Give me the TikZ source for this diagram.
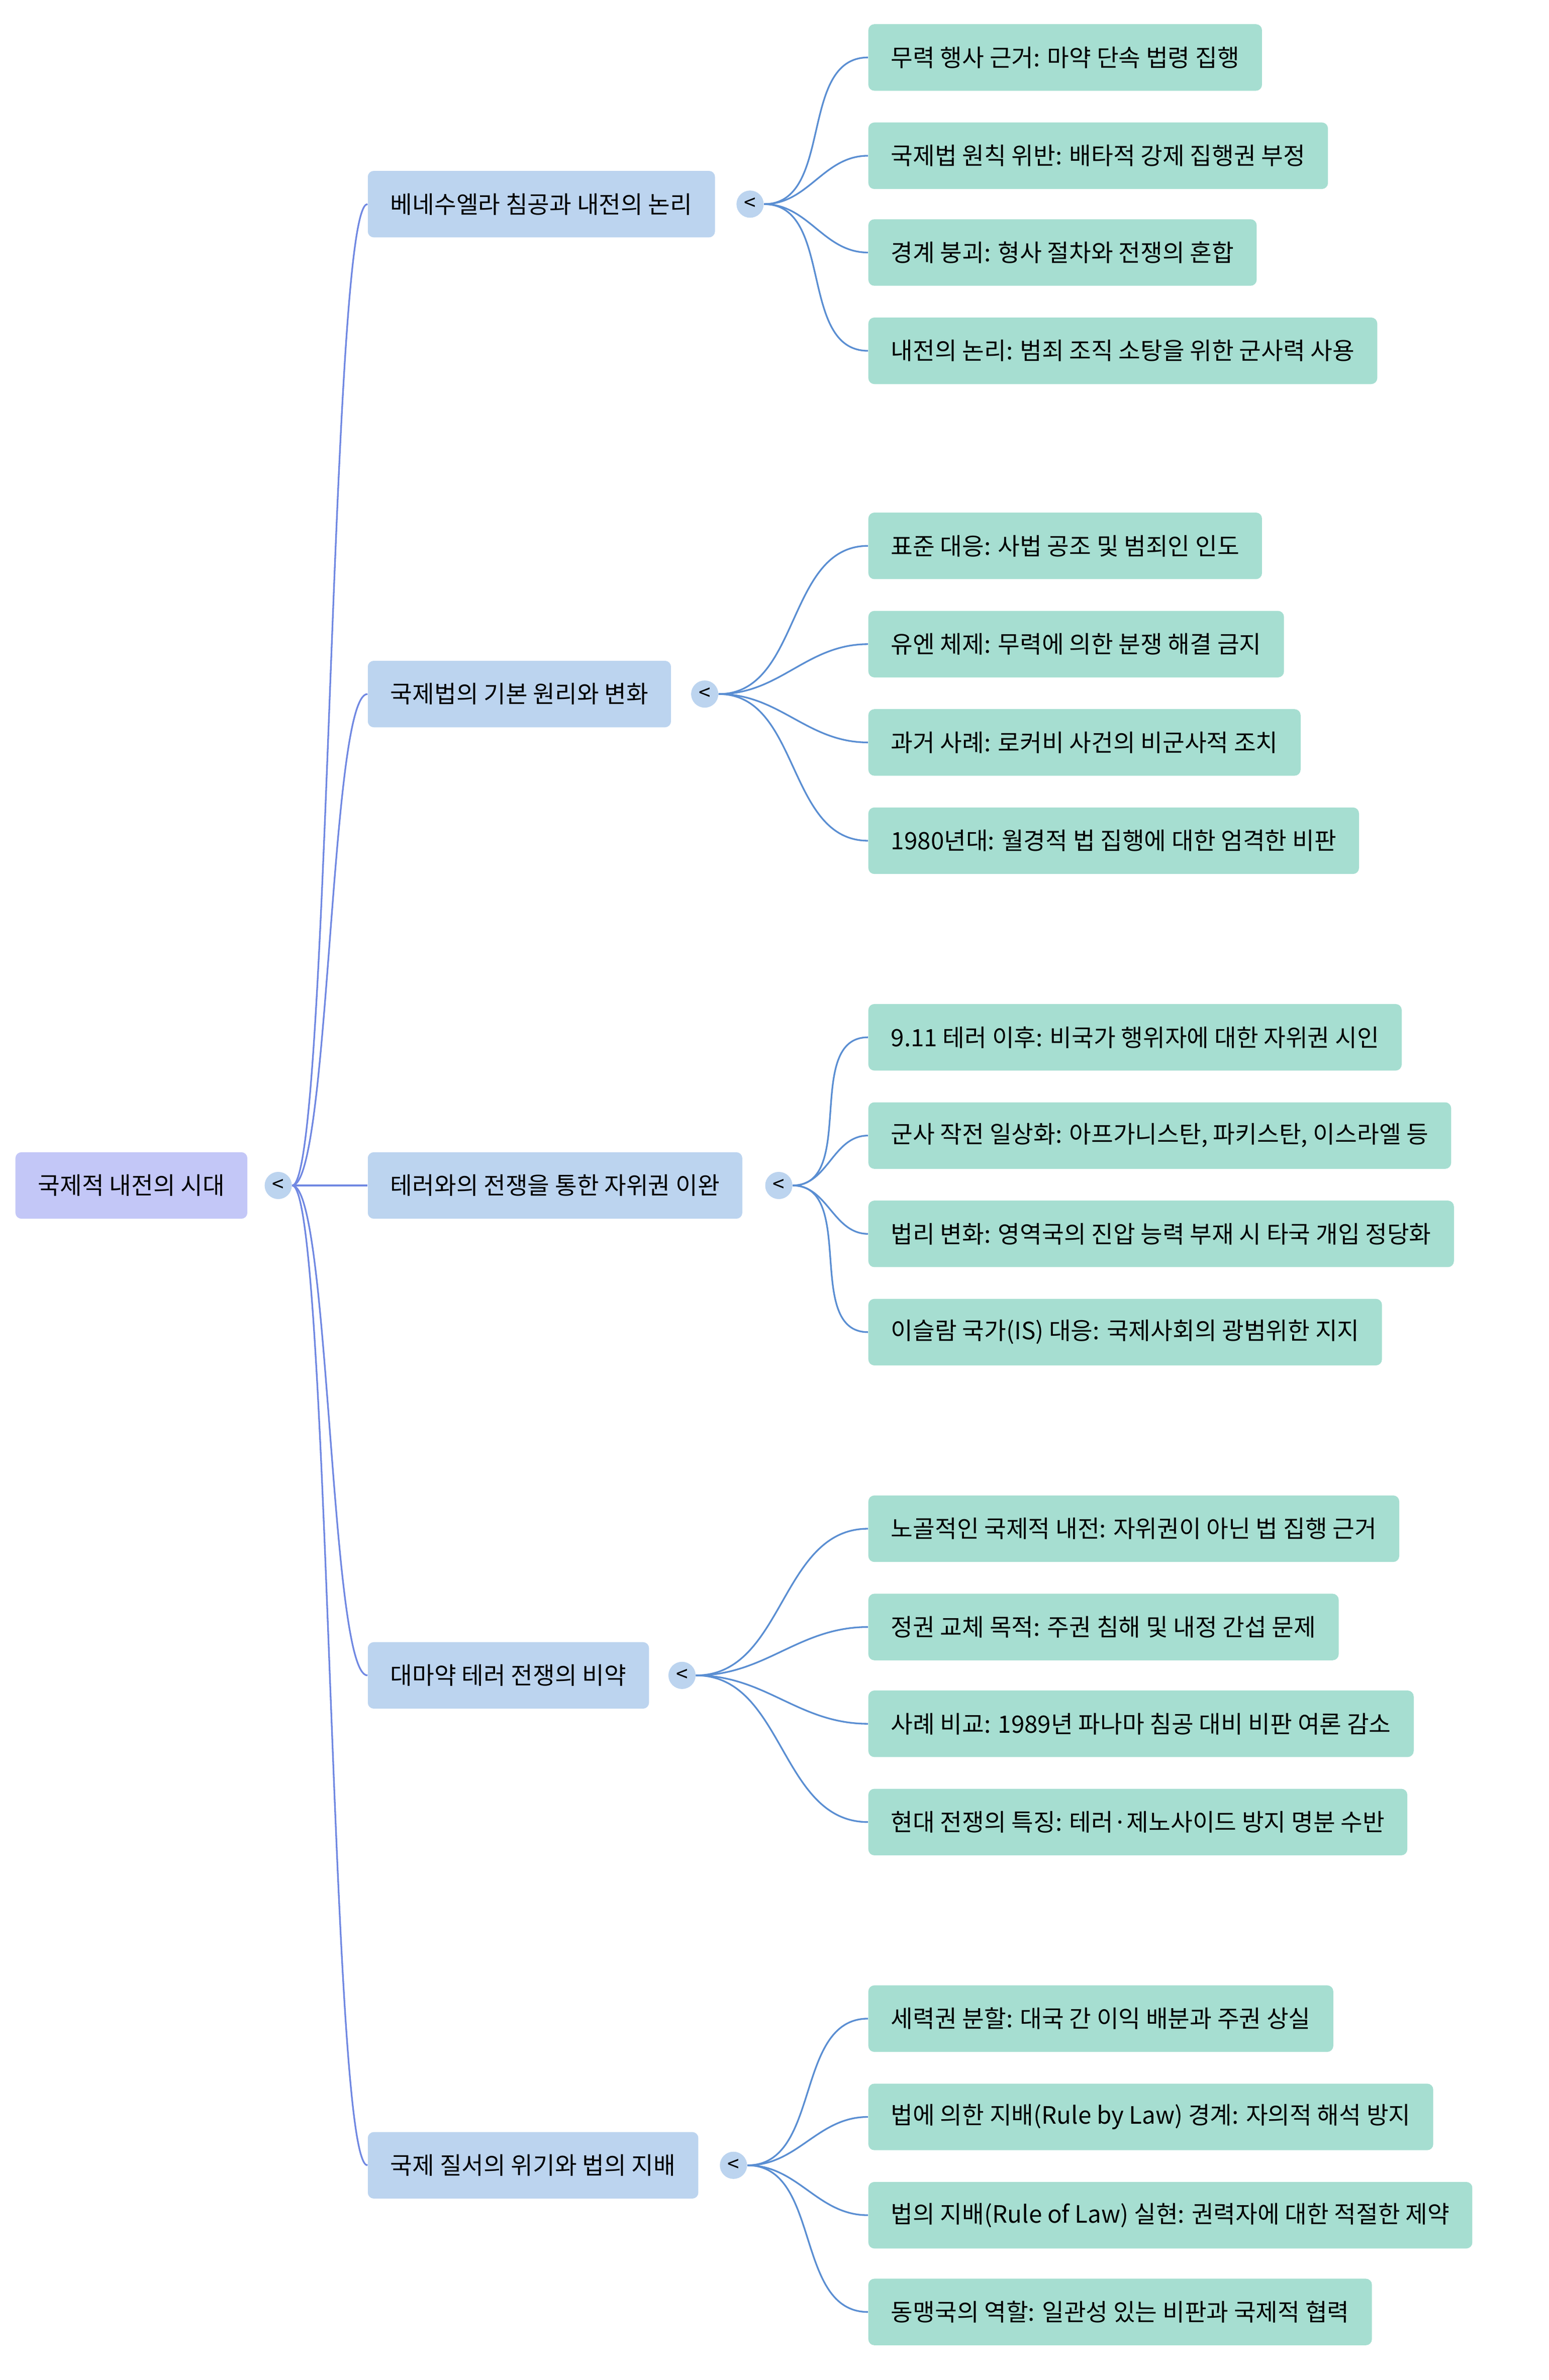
\documentclass[tikz,border=0pt]{standalone}
\usepackage{fontspec}
\setmainfont{Noto Sans CJK KR}
\usetikzlibrary{positioning}
\definecolor{rootfill}{HTML}{C3C7F7}
\definecolor{midfill}{HTML}{BCD4EF}
\definecolor{leaffill}{HTML}{A6DED1}
\definecolor{rootline}{HTML}{7088E2}
\definecolor{midline}{HTML}{5A8ED2}
\begin{document}
\begin{tikzpicture}[x=1pt,y=-1pt]
		\tikzstyle{Box}		= [rounded corners=4pt, minimum height=44pt, inner xsep=15pt, anchor=west, font=\fontsize{15.8}{18}\selectfont]
		\tikzstyle{Root}	= [Box, fill=rootfill]
		\tikzstyle{Topic}	= [Box, fill=midfill]
		\tikzstyle{Leaf}	= [Box, fill=leaffill]
		\tikzstyle{Knob}	= [circle, fill=midfill, minimum size=18pt, inner sep=0pt, font=\fontsize{14}{14}\selectfont]
		\tikzstyle{RL}		= [rootline, line width=1.1pt]
		\tikzstyle{ML}		= [midline, line width=1.1pt]

		\useasboundingbox (0,0) rectangle (1024,1574);

		\node (r) at (10,784) [Root] {국제적 내전의 시대};
		\node (k0) at (184,784) [Knob] {<};

		\node (t1) at (243,135) [Topic] {베네수엘라 침공과 내전의 논리};
		\node (t2) at (243,459) [Topic] {국제법의 기본 원리와 변화};
		\node (t3) at (243,784) [Topic] {테러와의 전쟁을 통한 자위권 이완};
		\node (t4) at (243,1108) [Topic] {대마약 테러 전쟁의 비약};
		\node (t5) at (243,1432) [Topic] {국제 질서의 위기와 법의 지배};

		\node (k1) at (496,135) [Knob] {<};
		\node (k2) at (466,459) [Knob] {<};
		\node (k3) at (515,784) [Knob] {<};
		\node (k4) at (451,1108) [Knob] {<};
		\node (k5) at (485,1432) [Knob] {<};

		\node (l11) at (574,38) [Leaf] {무력 행사 근거: 마약 단속 법령 집행};
		\node (l12) at (574,103) [Leaf] {국제법 원칙 위반: 배타적 강제 집행권 부정};
		\node (l13) at (574,167) [Leaf] {경계 붕괴: 형사 절차와 전쟁의 혼합};
		\node (l14) at (574,232) [Leaf] {내전의 논리: 범죄 조직 소탕을 위한 군사력 사용};

		\node (l21) at (574,361) [Leaf] {표준 대응: 사법 공조 및 범죄인 인도};
		\node (l22) at (574,426) [Leaf] {유엔 체제: 무력에 의한 분쟁 해결 금지};
		\node (l23) at (574,491) [Leaf] {과거 사례: 로커비 사건의 비군사적 조치};
		\node (l24) at (574,556) [Leaf] {1980년대: 월경적 법 집행에 대한 엄격한 비판};

		\node (l31) at (574,686) [Leaf] {9.11 테러 이후: 비국가 행위자에 대한 자위권 시인};
		\node (l32) at (574,751) [Leaf] {군사 작전 일상화: 아프가니스탄, 파키스탄, 이스라엘 등};
		\node (l33) at (574,816) [Leaf] {법리 변화: 영역국의 진압 능력 부재 시 타국 개입 정당화};
		\node (l34) at (574,881) [Leaf] {이슬람 국가(IS) 대응: 국제사회의 광범위한 지지};

		\node (l41) at (574,1011) [Leaf] {노골적인 국제적 내전: 자위권이 아닌 법 집행 근거};
		\node (l42) at (574,1076) [Leaf] {정권 교체 목적: 주권 침해 및 내정 간섭 문제};
		\node (l43) at (574,1140) [Leaf] {사례 비교: 1989년 파나마 침공 대비 비판 여론 감소};
		\node (l44) at (574,1205) [Leaf] {현대 전쟁의 특징: 테러·제노사이드 방지 명분 수반};

		\node (l51) at (574,1335) [Leaf] {세력권 분할: 대국 간 이익 배분과 주권 상실};
		\node (l52) at (574,1400) [Leaf] {법에 의한 지배(Rule by Law) 경계: 자의적 해석 방지};
		\node (l53) at (574,1465) [Leaf] {법의 지배(Rule of Law) 실현: 권력자에 대한 적절한 제약};
		\node (l54) at (574,1529) [Leaf] {동맹국의 역할: 일관성 있는 비판과 국제적 협력};

		\foreach \t in {1,...,5}
			\draw [RL] (k0.east) .. controls +(25,0) and +(-25,0) .. (t\t.west);
		\foreach \t in {1,...,5}
			\foreach \l in {1,...,4}
				\draw [ML] (k\t.east) to [out=0, in=180] (l\t\l.west);
\end{tikzpicture}
\end{document}
